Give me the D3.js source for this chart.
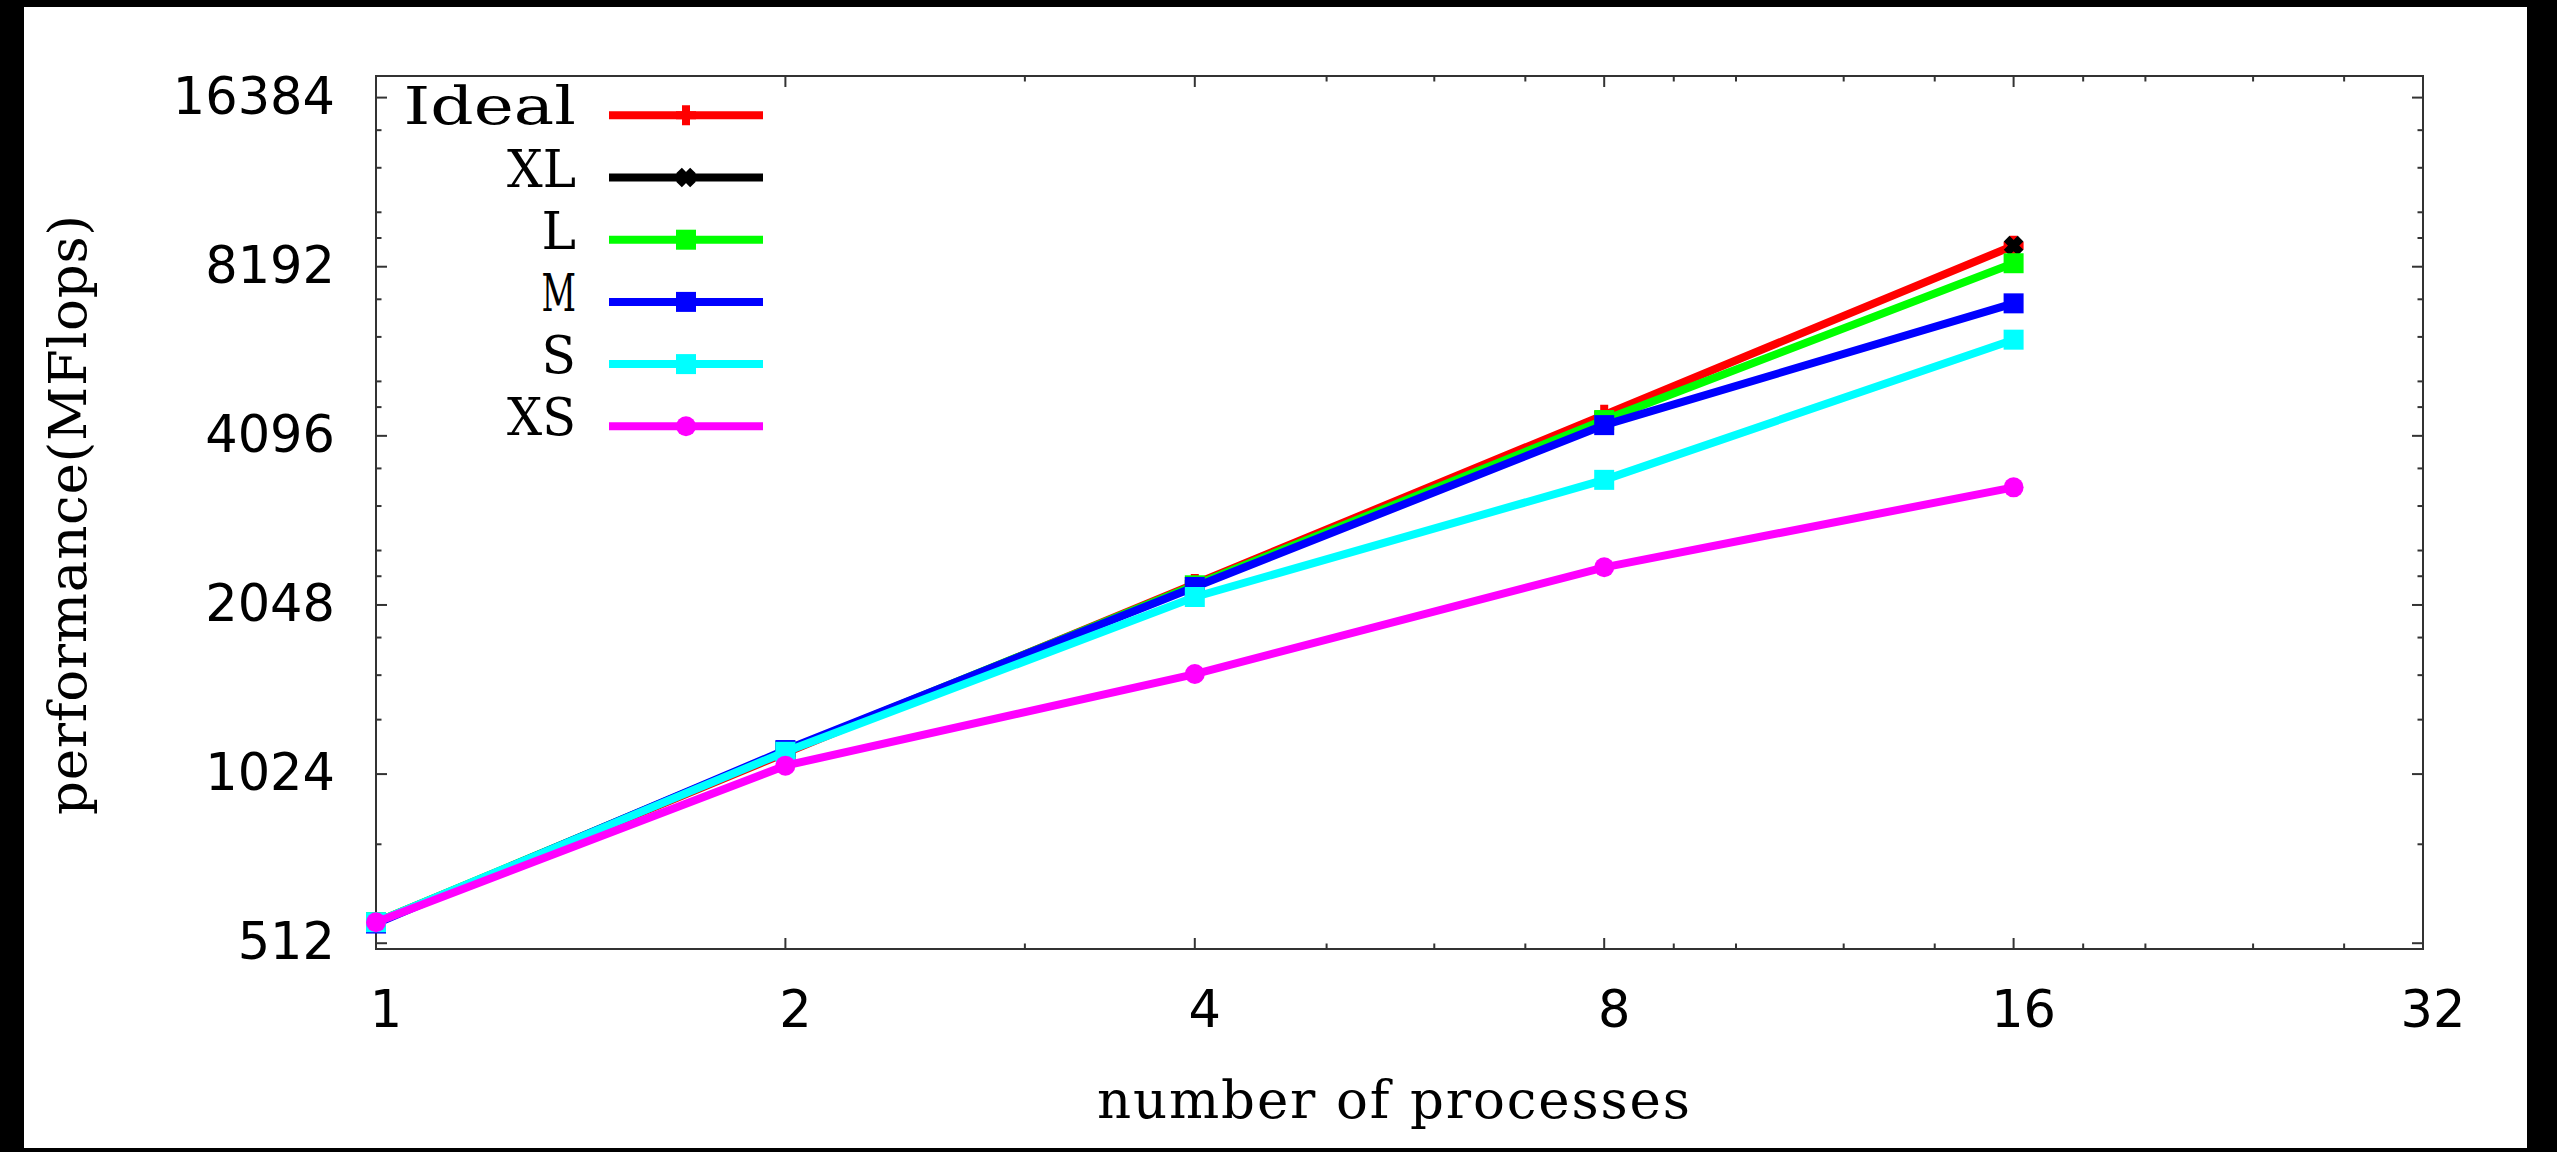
<!DOCTYPE html>
<html>
<head>
<meta charset="utf-8">
<script src="https://cdn.jsdelivr.net/npm/d3@7"></script>
<style>
  html, body { margin: 0; padding: 0; background: #000; }
  svg { display: block; }
</style>
</head>
<body>
<div id="chart"></div>
<script>
// processes (x) and measured MFlops per problem size
var processes = [1, 2, 4, 8, 16];
var ideal = [558, 1116, 2232, 4464, 8930];
var xl    = [null, null, null, null, 8930];
var large = [558, 1125, 2220, 4370, 8310];
var med   = [555, 1130, 2205, 4280, 7050];
var small = [558, 1122, 2116, 3420, 6075];
var xs    = [558, 1060, 1543, 2390, 3317];

var seriesNames = ['Ideal', 'XL', 'L', 'M', 'S', 'XS'];
var seriesColors = ['#ff0000', '#000000', '#00ff00', '#0000ff', '#00ffff', '#ff00ff'];
var seriesMarks = ['plus', 'cross', 'square', 'square', 'square', 'circle'];

var xTicks = [1, 2, 4, 8, 16, 32];
var xMinor = [3, 5, 6, 7, 9, 10, 12, 14, 18, 20, 24, 28];
var yTicks = [512, 1024, 2048, 4096, 8192, 16384];
var yMinor = [768, 1280, 1536, 1792, 2304, 2560, 3072, 3584,
              4608, 5120, 6144, 7168, 9216, 10240, 12288, 14336];

var W = 2557, H = 1152;
var margin = {top: 76, right: W - 2423, bottom: H - 949, left: 376};
var width = W - margin.left - margin.right,
    height = H - margin.top - margin.bottom;

var serif = '"DejaVu Serif"';

var svg = d3.select('#chart').append('svg')
    .attr('width', W)
    .attr('height', H);

// white page inside the black border
svg.append('rect')
    .attr('x', 24).attr('y', 7)
    .attr('width', 2527 - 24).attr('height', 1148 - 7)
    .attr('fill', '#fff');

var g = svg.append('g')
    .attr('transform', 'translate(' + margin.left + ',' + margin.top + ')');

var x = d3.scaleLog().base(2).domain([1, 32]).range([0, width]);
var y = d3.scaleLog().base(2).domain([500, 17900]).range([height, 0]);

var frameColor = '#333';
var majorLen = 11, minorLen = 5.5;

// ticks on all four sides, pointing inward
function drawTicks(vals, len) {
    g.selectAll(null).data(vals).enter().append('line')
        .attr('x1', function(d) { return x(d); }).attr('x2', function(d) { return x(d); })
        .attr('y1', height).attr('y2', height - len)
        .attr('stroke', frameColor).attr('stroke-width', 2);
    g.selectAll(null).data(vals).enter().append('line')
        .attr('x1', function(d) { return x(d); }).attr('x2', function(d) { return x(d); })
        .attr('y1', 0).attr('y2', len)
        .attr('stroke', frameColor).attr('stroke-width', 2);
}
function drawYTicks(vals, len) {
    g.selectAll(null).data(vals).enter().append('line')
        .attr('y1', function(d) { return y(d); }).attr('y2', function(d) { return y(d); })
        .attr('x1', 0).attr('x2', len)
        .attr('stroke', frameColor).attr('stroke-width', 2);
    g.selectAll(null).data(vals).enter().append('line')
        .attr('y1', function(d) { return y(d); }).attr('y2', function(d) { return y(d); })
        .attr('x1', width).attr('x2', width - len)
        .attr('stroke', frameColor).attr('stroke-width', 2);
}
drawTicks(xTicks, majorLen);
drawTicks(xMinor, minorLen);
drawYTicks(yTicks, majorLen);
drawYTicks(yMinor, minorLen);

g.append('rect')
    .attr('width', width).attr('height', height)
    .attr('fill', 'none')
    .attr('stroke', frameColor).attr('stroke-width', 2);

// tick labels
g.selectAll('.xlab').data(xTicks).enter().append('text')
    .attr('class', 'xlab')
    .attr('x', function(d) { return x(d) + 10; })
    .attr('y', 1027 - margin.top)
    .attr('text-anchor', 'middle')
    .style('font-family', '"DejaVu Sans"')
    .style('font-size', '51px')
    .text(function(d) { return d; });

g.selectAll('.ylab').data(yTicks).enter().append('text')
    .attr('class', 'ylab')
    .attr('x', 335 - margin.left)
    .attr('y', function(d) { return y(d) + 16; })
    .attr('text-anchor', 'end')
    .style('font-family', '"DejaVu Sans"')
    .style('font-size', '51px')
    .text(function(d) { return d; });

// axis titles (typewriter-like spacing: stretch to fixed width)
svg.append('text')
    .attr('x', 1097).attr('y', 1118)
    .attr('textLength', 593)
    .attr('lengthAdjust', 'spacing')
    .style('font-family', serif)
    .style('font-size', '53px')
    .text('number of processes');

svg.append('text')
    .attr('transform', 'translate(86,815) rotate(-90)')
    .attr('textLength', 600)
    .attr('lengthAdjust', 'spacing')
    .style('font-family', serif)
    .style('font-size', '53px')
    .text('performance(MFlops)');

// series
var allSeries = [ideal, xl, large, med, small, xs];

function drawMark(sel, type, color) {
    if (type === 'plus') {
        sel.append('path').attr('d', 'M-10,0H10M0,-10V10')
            .attr('stroke', color).attr('stroke-width', 8).attr('fill', 'none');
    } else if (type === 'cross') {
        sel.append('path').attr('d', 'M-7,-7L7,7M-7,7L7,-7')
            .attr('stroke', color).attr('stroke-width', 8).attr('fill', 'none');
    } else if (type === 'square') {
        sel.append('path').attr('d', d3.symbol().type(d3.symbolSquare).size(400)())
            .attr('fill', color);
    } else {
        sel.append('path').attr('d', d3.symbol().type(d3.symbolCircle).size(314)())
            .attr('fill', color);
    }
}

var line = d3.line()
    .defined(function(d) { return d[1] != null; })
    .x(function(d) { return x(d[0]); })
    .y(function(d) { return y(d[1]); });

allSeries.forEach(function(vals, i) {
    var pts = processes.map(function(p, j) { return [p, vals[j]]; });
    var sg = g.append('g').attr('class', 'series');
    sg.append('path')
        .datum(pts)
        .attr('d', line)
        .attr('fill', 'none')
        .attr('stroke', seriesColors[i])
        .attr('stroke-width', 8);
    pts.filter(function(d) { return d[1] != null; }).forEach(function(d) {
        var mg = sg.append('g')
            .attr('transform', 'translate(' + x(d[0]) + ',' + y(d[1]) + ')');
        drawMark(mg, seriesMarks[i], seriesColors[i]);
    });
});

// legend; labels squeezed to a typewriter cell width
var cell = 34.5;
var legend = svg.append('g');
seriesNames.forEach(function(name, i) {
    var ly = 115.3 + i * 62.2;
    var t = legend.append('text')
        .attr('text-anchor', 'end')
        .style('font-family', serif)
        .style('font-size', '53px')
        .text(name);
    var natural = t.node().getComputedTextLength();
    var k = (name.length * cell) / natural;
    t.attr('transform', 'translate(576,' + (ly + 9) + ') scale(' + k + ',1)');
    legend.append('line')
        .attr('x1', 609).attr('x2', 763)
        .attr('y1', ly).attr('y2', ly)
        .attr('stroke', seriesColors[i])
        .attr('stroke-width', 8);
    var mg = legend.append('g').attr('transform', 'translate(686,' + ly + ')');
    drawMark(mg, seriesMarks[i], seriesColors[i]);
});
</script>
</body>
</html>
